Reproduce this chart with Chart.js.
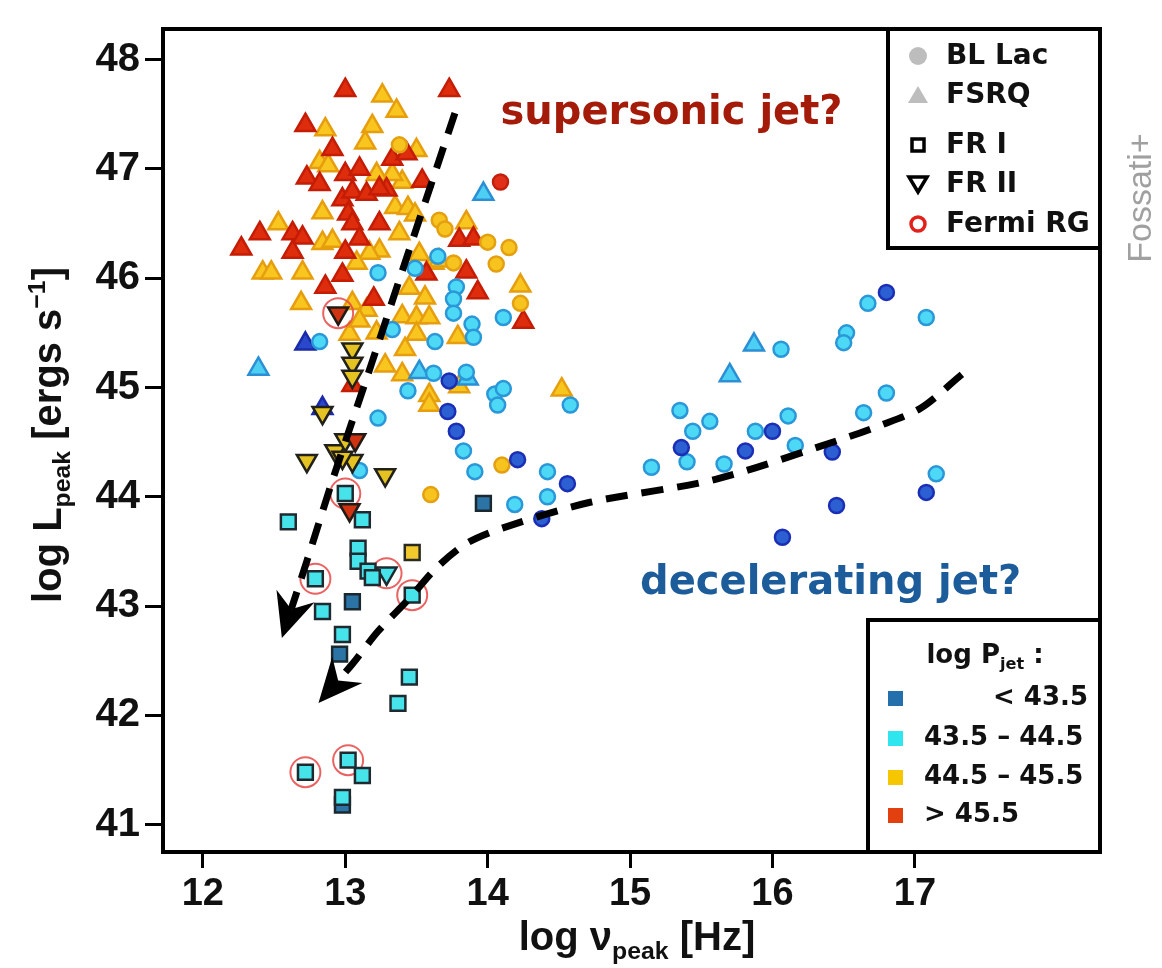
<!DOCTYPE html>
<html>
<head>
<meta charset="utf-8">
<script src="https://cdn.jsdelivr.net/npm/chart.js@4.4.1/dist/chart.umd.min.js"></script>
<style>
  html, body { margin: 0; padding: 0; background: #fff; }
  #wrap { width: 1162px; height: 968px; }
</style>
</head>
<body>
<div id="wrap"><canvas id="sed" width="1162" height="968"></canvas></div>
<script>
// axis ranges / ticks
const X_MIN = 11.72, X_MAX = 18.30
const Y_MIN = 40.75, Y_MAX = 48.28
const X_TICKS = [12, 13, 14, 15, 16, 17]
const Y_TICKS = [41, 42, 43, 44, 45, 46, 47, 48]

// [log nu_peak, log L_peak]
const fsrqRed = [[13.00,47.72],[13.73,47.72],[12.72,47.40],[12.91,47.18],[12.73,46.92],[12.82,46.86],[13.00,46.95],[13.10,47.00],[13.33,47.09],[13.43,47.14],[13.54,46.89],[13.29,46.81],[12.98,46.72],[13.05,46.79],[13.15,46.77],[13.24,46.82],[13.02,46.59],[13.05,46.50],[13.24,46.50],[13.10,46.36],[12.40,46.41],[12.27,46.27],[12.63,46.41],[12.70,46.37],[12.63,46.24],[13.00,46.24],[13.80,46.35],[13.90,46.36],[12.98,46.03],[12.86,45.92],[13.20,45.81],[13.57,46.04],[13.85,46.06],[13.93,45.87],[14.25,45.60],[13.05,45.02]]
const fsrqYellow = [[13.26,47.67],[13.36,47.53],[12.86,47.36],[13.19,47.39],[13.14,47.24],[13.50,47.17],[12.82,47.06],[12.88,47.03],[13.40,46.88],[13.33,46.95],[13.22,46.95],[12.84,46.60],[12.53,46.50],[12.84,46.32],[12.91,46.34],[13.35,46.65],[13.44,46.64],[13.49,46.58],[13.38,46.41],[13.24,46.25],[13.17,46.23],[13.52,46.22],[13.85,46.51],[13.08,46.14],[12.42,46.05],[12.48,46.05],[12.70,46.05],[12.69,45.77],[13.05,45.77],[13.15,45.71],[13.03,45.49],[13.62,46.14],[13.66,46.16],[13.45,45.91],[13.56,45.82],[13.40,45.65],[13.50,45.64],[13.59,45.64],[13.50,45.49],[13.79,45.46],[13.10,45.61],[13.22,45.50],[13.42,45.35],[13.28,45.20],[13.40,45.12],[13.80,45.01],[13.59,44.93],[13.59,44.84],[14.52,44.98],[14.23,45.93]]
const fsrqCyan = [[13.97,46.77],[12.39,45.17],[15.87,45.39],[15.70,45.11],[13.52,45.14],[13.86,45.08]]
const fsrqBlue = [[12.72,45.40],[12.84,44.81]]

const blLacRed = [[14.09,46.88]]
const blLacYellow = [[13.38,47.22],[13.66,46.53],[13.70,46.45],[14.00,46.33],[14.15,46.28],[14.06,46.13],[13.76,46.14],[14.23,45.77],[13.60,44.02],[14.10,44.29]]
const blLacCyan = [[12.82,45.42],[13.23,46.05],[13.33,45.53],[13.49,46.09],[13.65,46.20],[13.78,45.92],[13.76,45.81],[13.76,45.68],[13.89,45.58],[13.90,45.46],[14.11,45.64],[13.63,45.42],[13.62,45.13],[13.85,45.14],[13.44,44.97],[14.05,44.94],[14.11,44.99],[14.07,44.84],[14.58,44.84],[13.23,44.72],[13.10,44.24],[13.83,44.42],[13.91,44.23],[14.42,44.23],[14.42,44.00],[14.19,43.93],[15.35,44.79],[15.44,44.60],[15.56,44.69],[15.15,44.27],[15.40,44.32],[15.88,44.60],[16.11,44.74],[16.16,44.47],[15.66,44.30],[16.64,44.77],[16.80,44.95],[16.52,45.50],[16.50,45.41],[16.67,45.77],[17.08,45.64],[16.06,45.35],[17.15,44.21]]
const blLacBlue = [[13.73,45.06],[13.72,44.78],[13.78,44.60],[14.21,44.34],[14.56,44.12],[14.38,43.80],[15.36,44.45],[16.80,45.87],[16.00,44.60],[15.81,44.42],[16.42,44.41],[16.45,43.92],[17.08,44.04],[16.07,43.63]]

const fr1Cyan = [[12.60,43.77],[13.12,43.79],[13.00,44.03],[13.09,43.53],[13.09,43.41],[13.16,43.32],[13.19,43.26],[12.79,43.25],[13.47,43.10],[12.84,42.95],[12.98,42.74],[13.45,42.35],[13.37,42.11],[12.72,41.48],[13.02,41.59],[13.12,41.45],[12.98,41.25]]
const fr1Blue = [[13.97,43.94],[13.05,43.04],[12.96,42.56],[12.98,41.18]]
const fr1Yellow = [[13.47,43.49]]

const fr2Red = [[12.95,45.68],[13.07,44.52],[13.03,43.88]]
const fr2Yellow = [[13.05,45.35],[13.05,45.22],[13.05,45.10],[12.84,44.77],[12.73,44.33],[12.93,44.42],[13.00,44.52],[13.05,44.33],[13.28,44.20],[12.98,44.36]]
const fr2Cyan = [[13.29,43.30]]

const fermiRG = [[12.95,45.68],[13.00,44.03],[12.79,43.25],[13.29,43.30],[13.47,43.10],[12.72,41.48],[13.02,41.59]]

// dashed arrows (last point = base of the arrow head)
const supersonicPath = [[13.77,47.51],[13.47,46.34],[13.19,45.24],[12.91,44.15],[12.73,43.41],[12.62,42.97]]
const deceleratingPath = [[17.33,45.12],[17.04,44.81],[16.75,44.65],[16.47,44.52],[15.60,44.16],[14.72,43.95],[14.14,43.73],[13.86,43.58],[13.64,43.35],[13.45,43.07],[13.23,42.77],[13.05,42.47],[12.95,42.32]]

const LEGEND_TYPES = ['BL Lac', 'FSRQ', 'FR I', 'FR II', 'Fermi RG']
const PJET_LABELS = ['< 43.5', '43.5 \u2013 44.5', '44.5 \u2013 45.5', '> 45.5']
const PJET_COLORS = ['#2470ac', '#2fe6ee', '#f6c700', '#e2410f']

const xy = pts => pts.map(([x, y]) => ({ x, y }))

function marks(data, style, fill, stroke, opts = {}) {
  return Object.assign({
    data: xy(data),
    pointStyle: style,
    pointRadius: 7.5,
    backgroundColor: fill,
    borderColor: stroke,
    borderWidth: 2.5,
    showLine: false,
  }, opts)
}

function arrowLine(path) {
  return {
    data: xy(path),
    showLine: true,
    pointRadius: 0,
    borderColor: '#000',
    borderWidth: 7,
    borderDash: [22, 14],
    borderCapStyle: 'butt',
    tension: 0.3,
    fill: false,
  }
}

const TRI = { pointRadius: 11.5 }
const INV = { pointRadius: 11.5, rotation: 180 }
const SQ = { pointRadius: 10.5 }

const datasets = [
  arrowLine(supersonicPath),
  arrowLine(deceleratingPath),
  marks(fr1Cyan, 'rect', '#47e3ea', '#1e2a30', SQ),
  marks(fr1Blue, 'rect', '#2c73a6', '#1a2830', SQ),
  marks(fr1Yellow, 'rect', '#f2c92c', '#2a2a20', SQ),
  marks(fr2Cyan, 'triangle', '#47e3ea', '#1e2a30', INV),
  marks(fr2Red, 'triangle', '#cf3412', '#221a14', INV),
  marks(fr2Yellow, 'triangle', '#e3c222', '#22201a', INV),
  marks(fermiRG, 'circle', 'rgba(0,0,0,0)', 'rgba(232,70,70,0.85)', { pointRadius: 15, borderWidth: 2 }),
  marks(blLacBlue, 'circle', '#2b5fd2', '#1b2fb6'),
  marks(blLacCyan, 'circle', '#4dd8f5', '#2a97d8'),
  marks(blLacRed, 'circle', '#e0301a', '#c41e0c'),
  marks(blLacYellow, 'circle', '#f6c31f', '#e4a010'),
  marks(fsrqBlue, 'triangle', '#2a48cc', '#1a2aa8', TRI),
  marks(fsrqCyan, 'triangle', '#4ccff3', '#2a8fd4', TRI),
  marks(fsrqRed, 'triangle', '#de2d0d', '#c41c05', TRI),
  marks(fsrqYellow, 'triangle', '#f9c51f', '#e69e0e', TRI),
]

function richWidth(ctx, parts, size) {
  let w = 0
  for (const p of parts) {
    ctx.font = fontFor(p, size)
    w += ctx.measureText(p.t).width
  }
  return w
}
function fontFor(p, size) {
  const s = p.sub || p.sup ? size * 0.62 : size
  return `bold ${s}px ${p.family}`
}
// draws text with sub/superscripts centred at (cx, cy)
function drawRich(ctx, parts, cx, cy, size) {
  let x = cx - richWidth(ctx, parts, size) / 2
  ctx.textAlign = 'left'
  ctx.textBaseline = 'alphabetic'
  const base = cy + size * 0.36
  for (const p of parts) {
    ctx.font = fontFor(p, size)
    let y = base
    if (p.sub) y += size * 0.22
    if (p.sup) y -= size * 0.42
    ctx.fillText(p.t, x, y)
    x += ctx.measureText(p.t).width
  }
}

const LS = '"Liberation Sans", Arial, sans-serif'
const DJ = '"DejaVu Sans", sans-serif'

const overlay = {
  id: 'overlay',
  afterDatasetsDraw(chart) {
    const { ctx, scales: { x, y } } = chart
    ctx.save()
    ctx.fillStyle = '#000'
    for (const path of [supersonicPath, deceleratingPath]) {
      const a = path[path.length - 2], b = path[path.length - 1]
      const ax = x.getPixelForValue(a[0]), ay = y.getPixelForValue(a[1])
      const bx = x.getPixelForValue(b[0]), by = y.getPixelForValue(b[1])
      const len = Math.hypot(bx - ax, by - ay)
      const dx = (bx - ax) / len, dy = (by - ay) / len
      const nx = -dy, ny = dx
      ctx.beginPath()
      ctx.moveTo(bx + dx * 30, by + dy * 30)
      ctx.lineTo(bx - dx * 14 + nx * 20, by - dy * 14 + ny * 20)
      ctx.lineTo(bx, by)
      ctx.lineTo(bx - dx * 14 - nx * 20, by - dy * 14 - ny * 20)
      ctx.closePath()
      ctx.fill()
    }
    // annotations
    ctx.font = `bold 40px ${DJ}`
    ctx.textBaseline = 'middle'
    ctx.textAlign = 'left'
    ctx.fillStyle = '#a41b0a'
    ctx.fillText('supersonic jet?', x.getPixelForValue(14.09), y.getPixelForValue(47.51))
    ctx.fillStyle = '#1d5c9a'
    ctx.fillText('decelerating jet?', x.getPixelForValue(15.07), y.getPixelForValue(43.21))
    ctx.restore()
  },
  afterDraw(chart) {
    const { ctx, chartArea: a } = chart
    ctx.save()
    ctx.strokeStyle = '#000'
    ctx.lineWidth = 4
    ctx.strokeRect(a.left, a.top, a.right - a.left, a.bottom - a.top)

    // source-type legend
    const lx = 888, lb = 248
    ctx.fillStyle = '#fff'
    ctx.fillRect(lx, a.top, a.right - lx, lb - a.top)
    ctx.strokeRect(lx, a.top, a.right - lx, lb - a.top)
    const rows = [56, 95, 145, 184, 224]
    const mx = 918
    ctx.fillStyle = '#bdbdbd'
    ctx.beginPath(); ctx.arc(mx, rows[0], 9, 0, Math.PI * 2); ctx.fill()
    ctx.beginPath()
    ctx.moveTo(mx, rows[1] - 9); ctx.lineTo(mx + 10, rows[1] + 8); ctx.lineTo(mx - 10, rows[1] + 8)
    ctx.closePath(); ctx.fill()
    ctx.strokeStyle = '#000'
    ctx.lineWidth = 3.5
    ctx.strokeRect(mx - 6, rows[2] - 6, 12, 12)
    ctx.beginPath()
    ctx.moveTo(mx - 9, rows[3] - 7); ctx.lineTo(mx + 9, rows[3] - 7); ctx.lineTo(mx, rows[3] + 8)
    ctx.closePath(); ctx.stroke()
    ctx.strokeStyle = '#e2201c'
    ctx.lineWidth = 3.5
    ctx.beginPath(); ctx.arc(mx, rows[4], 7, 0, Math.PI * 2); ctx.stroke()
    ctx.fillStyle = '#111'
    ctx.font = `bold 28px ${DJ}`
    ctx.textAlign = 'left'
    ctx.textBaseline = 'middle'
    LEGEND_TYPES.forEach((t, i) => ctx.fillText(t, 946, rows[i] + 1))

    // jet power legend
    const px = 868, pt = 620
    ctx.fillStyle = '#fff'
    ctx.fillRect(px, pt, a.right - px, a.bottom - pt)
    ctx.strokeStyle = '#000'
    ctx.lineWidth = 4
    ctx.strokeRect(px, pt, a.right - px, a.bottom - pt)
    ctx.fillStyle = '#111'
    drawRich(ctx, [
      { t: 'log P', family: DJ }, { t: 'jet', sub: true, family: DJ }, { t: ' :', family: DJ },
    ], 985, 654, 26)
    const prow = [698, 738, 777, 815]
    ctx.font = `bold 26px ${DJ}`
    ctx.textBaseline = 'middle'
    PJET_LABELS.forEach((t, i) => {
      ctx.fillStyle = PJET_COLORS[i]
      ctx.fillRect(888, prow[i] - 7, 15, 15)
      ctx.fillStyle = '#111'
      if (i === 0) { ctx.textAlign = 'right'; ctx.fillText(t, 1088, prow[i]) }
      else { ctx.textAlign = 'left'; ctx.fillText(t, 924, prow[i]) }
    })

    // axis titles
    ctx.fillStyle = '#111'
    drawRich(ctx, [
      { t: 'log \u03bd', family: LS }, { t: 'peak', sub: true, family: LS }, { t: ' [Hz]', family: LS },
    ], 637, 936, 40)
    ctx.save()
    ctx.translate(47, 435)
    ctx.rotate(-Math.PI / 2)
    drawRich(ctx, [
      { t: 'log L', family: LS }, { t: 'peak', sub: true, family: LS }, { t: ' [ergs s', family: LS },
      { t: '\u22121', sup: true, family: LS }, { t: ']', family: LS },
    ], 0, 0, 40)
    ctx.restore()

    // credit
    ctx.save()
    ctx.translate(1142, 198)
    ctx.rotate(-Math.PI / 2)
    ctx.fillStyle = '#a0a0a0'
    ctx.font = `34px ${LS}`
    ctx.textAlign = 'center'
    ctx.textBaseline = 'middle'
    ctx.fillText('Fossati+', 0, 0)
    ctx.restore()
    ctx.restore()
  },
}

new Chart(document.getElementById('sed'), {
  type: 'scatter',
  data: { datasets },
  options: {
    responsive: false,
    animation: false,
    events: [],
    layout: { padding: { top: 15, right: 62, left: 0, bottom: 0 } },
    plugins: { legend: { display: false }, tooltip: { enabled: false } },
    scales: {
      x: {
        type: 'linear',
        min: X_MIN,
        max: X_MAX,
        afterBuildTicks: s => { s.ticks = X_TICKS.map(v => ({ value: v })) },
        afterFit: s => { s.height = 116 },
        grid: { drawOnChartArea: false, color: '#000', lineWidth: 3, tickLength: 16 },
        border: { display: false },
        ticks: {
          autoSkip: false,
          maxRotation: 0,
          padding: 4,
          color: '#111',
          font: { family: '"Liberation Sans Narrow", "Liberation Sans", Arial, sans-serif', weight: 'bold', size: 38 },
          callback: v => String(v),
        },
      },
      y: {
        type: 'linear',
        min: Y_MIN,
        max: Y_MAX,
        afterBuildTicks: s => { s.ticks = Y_TICKS.map(v => ({ value: v })) },
        afterFit: s => { s.width = 163 },
        grid: { drawOnChartArea: false, color: '#000', lineWidth: 3, tickLength: 18 },
        border: { display: false },
        ticks: {
          autoSkip: false,
          padding: 5,
          color: '#111',
          font: { family: LS, weight: 'bold', size: 40 },
          callback: v => String(v),
        },
      },
    },
  },
  plugins: [overlay],
})
</script>
</body>
</html>
